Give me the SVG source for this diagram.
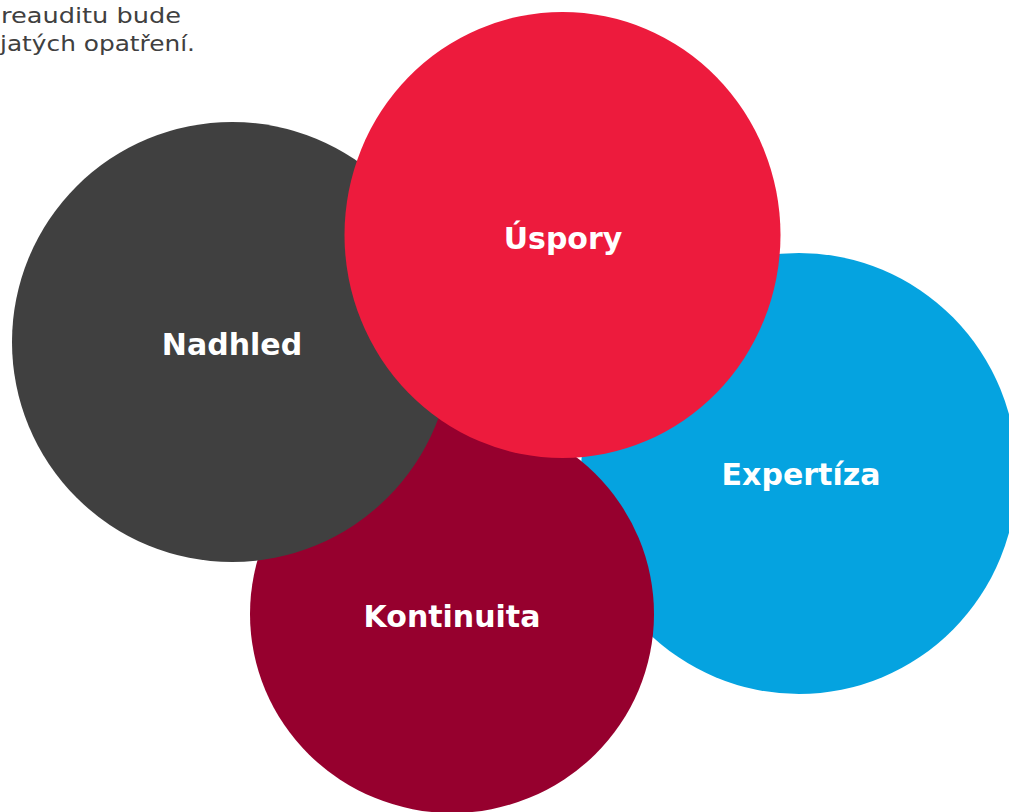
<svg xmlns="http://www.w3.org/2000/svg" width="1009" height="812" viewBox="0 0 1009 812">
<style>
.lbl{font-family:"DejaVu Sans","Liberation Sans",sans-serif;font-weight:bold;font-size:30px;fill:#ffffff;text-anchor:middle}
.note{font-family:"DejaVu Sans","Liberation Sans",sans-serif;font-size:22px;fill:#404040}
</style>
<rect width="1009" height="812" fill="#ffffff"/>
<g id="note">
<text class="note" x="1" y="23" textLength="180" lengthAdjust="spacingAndGlyphs">reauditu bude</text>
<text class="note" x="0" y="51" textLength="195" lengthAdjust="spacingAndGlyphs">jatých opatření.</text>
</g>
<g id="expertiza">
<ellipse cx="799" cy="473.5" rx="218" ry="220.5" fill="#05A3E0"/>
<text class="lbl" x="801" y="485">Expertíza</text>
</g>
<g id="kontinuita">
<ellipse cx="452" cy="614" rx="202" ry="199" fill="#96002E"/>
<text class="lbl" x="452" y="627">Kontinuita</text>
</g>
<g id="nadhled">
<ellipse cx="232" cy="342" rx="220" ry="220" fill="#404040"/>
<text class="lbl" x="232" y="355">Nadhled</text>
</g>
<g id="uspory">
<ellipse cx="562.5" cy="235" rx="218" ry="223" fill="#ED1B3D"/>
<text class="lbl" x="563" y="249">Úspory</text>
</g>
<g id="connectors"/>
</svg>
